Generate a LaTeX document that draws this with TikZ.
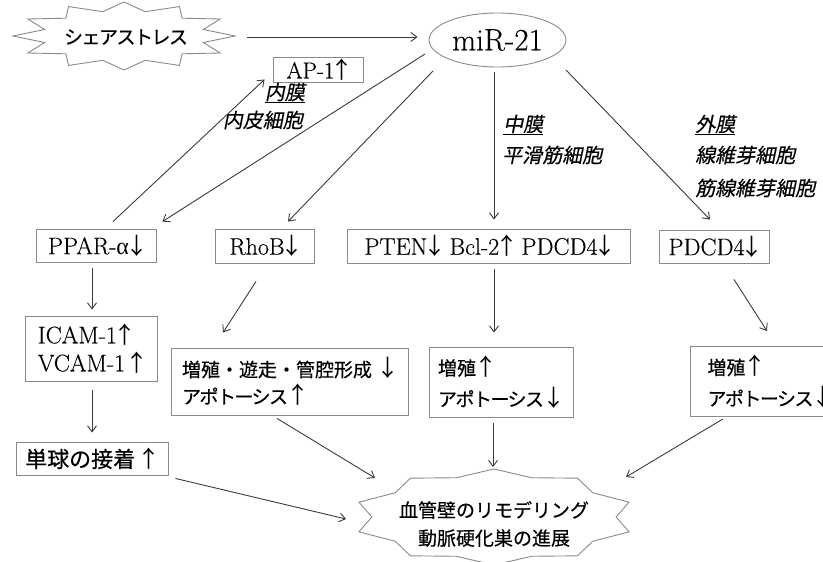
\documentclass[tikz,border=0pt]{standalone}
\usepackage{fontspec}
\setmainfont{Latin Modern Roman}[FakeBold=0.35]
\newfontfamily\jp{Noto Sans CJK JP}[FakeBold=0.4]
\newfontfamily\jpk{Noto Sans CJK JP}[FakeBold=0.4,LetterSpace=-8]
\newfontfamily\jparr{Noto Sans CJK JP}
\newfontfamily\jpit{Noto Sans CJK JP}[FakeSlant=0.2,FakeBold=0.4]
\newfontfamily\grk{Liberation Serif}
\usetikzlibrary{arrows.meta,calc,shapes.geometric}
\definecolor{linegray}{HTML}{3A3A3A}
\definecolor{boxgray}{HTML}{8A8A8A}
% arrows in Latin boxes
\newcommand{\myup}{\makebox[15pt]{\jparr\fontsize{23}{23}\selectfont ↑}}
\newcommand{\mydn}{\makebox[15pt]{\jparr\fontsize{23}{23}\selectfont ↓}}
% arrows in Japanese boxes
\newcommand{\jup}{\makebox[20pt]{\jparr\fontsize{23}{23}\selectfont ↑}}
\newcommand{\jdn}{\makebox[20pt]{\jparr\fontsize{23}{23}\selectfont ↓}}
\tikzset{
 box/.style={draw=boxgray, line width=0.9pt, inner sep=0pt, align=center, text=black},
 arr/.style={draw=linegray, line width=0.9pt, -{Straight Barb[length=6pt,width=9pt,line width=0.9pt]}},
 burst/.style={draw=boxgray, line width=0.9pt, line join=miter},
 lat/.style={font=\fontsize{24}{28}\selectfont},
 jpl/.style={font=\jpit\fontsize{20}{24}\selectfont, inner sep=0pt},
 jbox/.style={box, align=left, font=\jp\fontsize{19}{31}\selectfont},
}
\begin{document}
\begin{tikzpicture}[x=1pt,y=-1pt]
\useasboundingbox (0,0) rectangle (823,562);
\clip (0,0) rectangle (823,562);

% shear stress burst
\draw[burst] plot[samples at={0,15,...,345}, variable=\a]
  ({124+111*ifthenelse(mod(\a,30)<1,1,0.74)*cos(\a)}, {36-34*ifthenelse(mod(\a,30)<1,1,0.74)*sin(\a)}) -- cycle;
\node[minimum width=222pt, minimum height=66pt, inner sep=0pt, font=\jpk\fontsize{19}{22}\selectfont] (shear) at (126,37) {シェアストレス};

% miR-21
\node[ellipse, draw=boxgray, line width=0.9pt, minimum width=137pt, minimum height=54pt, inner sep=0pt, font=\fontsize{31}{34}\selectfont] (mir) at (497.5,40) {miR-21};

% AP-1
\node[box, font=\fontsize{23}{26}\selectfont, minimum width=90pt, minimum height=25pt] (ap1) at (318,69.5) {AP-1\myup};

% layer labels
\node[jpl, anchor=east] (naimaku) at (305,93) {\underline{内膜}};
\node[jpl, anchor=east] (naihi) at (303,120) {内皮細胞};
\node[jpl, anchor=west] (chumaku) at (503,125) {\underline{中膜}};
\node[jpl, anchor=west] (heikatsu) at (502,155) {平滑筋細胞};
\node[jpl, anchor=west] (gaimaku) at (695,125) {\underline{外膜}};
\node[jpl, anchor=west] (seni) at (695,155) {線維芽細胞};
\node[jpl, anchor=west] (kinseni) at (695,188) {筋線維芽細胞};

% row of targets
\node[box, lat, minimum width=120pt, minimum height=33pt] (ppar) at (96,245.5) {PPAR-{\grk α}\mydn};
\node[box, lat, minimum width=99pt, minimum height=34pt] (rhob) at (264.5,246) {RhoB\mydn};
\node[box, lat, minimum width=283pt, minimum height=34pt] (pten) at (488.5,246) {PTEN\mydn{} Bcl-2\myup{} PDCD4\mydn};
\node[box, lat, minimum width=110pt, minimum height=33pt] (pdcd) at (714,246.5) {PDCD4\mydn};

% effects
\node[box, align=left, font=\fontsize{24}{28}\selectfont, minimum width=132pt, minimum height=65pt] (icam) at (91,348.5) {ICAM-1\myup\\VCAM-1\,\myup};
\node[jbox, font=\jp\fontsize{19}{27}\selectfont, text width=215pt, inner xsep=11pt, minimum height=67pt] (zo) at (289.5,381.5) {\mbox{増殖・遊走・管腔形成 \jdn}\\{\jpk アポトーシス}\jup};
\node[jbox, text width=126pt, inner xsep=9pt, minimum height=70pt] (zm) at (501,382) {増殖\jup\\{\jpk アポトーシス}\jdn};
\node[jbox, text width=130pt, inner xsep=17pt, minimum height=70pt, anchor=north west] (zr) at (690,346) {増殖\jup\\{\jpk アポトーシス}\jdn};
\node[box, font=\jp\fontsize{22}{26}\selectfont, minimum width=152pt, minimum height=33pt] (tankyu) at (92,458.5) {単球の接着\,\jup};

% remodeling burst
\coordinate (burstc) at (494,517);
\draw[burst] plot[samples at={0,18,...,342}, variable=\a]
  ({494+142*ifthenelse(abs(mod(\a,36)-18)<1,1,0.86)*cos(\a)}, {517-48*ifthenelse(abs(mod(\a,36)-18)<1,1,0.86)*sin(\a)}) -- cycle;
\node[font=\jp\fontsize{19}{28}\selectfont, align=center, inner sep=0pt] (remodel) at (494,524) {血管壁のリモデリング\\動脈硬化巣の進展};
\coordinate (e1) at ($(burstc)+(-148,2)$);
\coordinate (e2) at ($(burstc)+(-119,-39)$);
\coordinate (e3) at ($(burstc)+(-1,-50)$);
\coordinate (e4) at ($(burstc)+(132,-40)$);

% connectors
\draw[arr, shorten <=10pt, shorten >=11pt] (shear.east) -- (shear.east -| mir.west);
\draw[arr] ($(ppar.north)+(17,-7)$) -- ($(ap1.south west)+(-8,-3)$);
\draw[arr] ($(mir.center)+(-72.5,14)$) -- ($(ppar.north east)+(6,-7)$);
\draw[arr] ($(mir.center)+(-64.5,31)$) -- ($(rhob.north)+(23.5,-7)$);
\draw[arr] ($(mir.south)+(-3.5,5)$) -- ($(pten.north)+(5.5,-9)$);
\draw[arr] ($(mir.center)+(68.5,30)$) -- ($(pdcd.north)+(-4,-10)$);
\draw[arr] ($(ppar.south)+(-4,6)$) -- ($(icam.north)+(1,-6)$);
\draw[arr] ($(rhob.south)+(-8.5,18)$) -- ($(zo.north)+(-66.5,-15)$);
\draw[arr] ($(pten.south)+(5.5,6)$) -- ($(zm.north)+(-7,-14)$);
\draw[arr] ($(pdcd.south)+(20,16)$) -- ($(zr.north west)+(77,-15)$);
\draw[arr] ($(icam.south)+(1,9)$) -- ($(tankyu.north)+(0,-9)$);
\draw[arr] ($(tankyu.south east)+(7,3)$) -- (e1);
\draw[arr] ($(zo.south)+(-12.5,3)$) -- (e2);
\draw[arr] ($(zm.south)+(-8,6)$) -- (e3);
\draw[arr] ($(zr.south west)+(33,2)$) -- (e4);
\end{tikzpicture}
\end{document}
